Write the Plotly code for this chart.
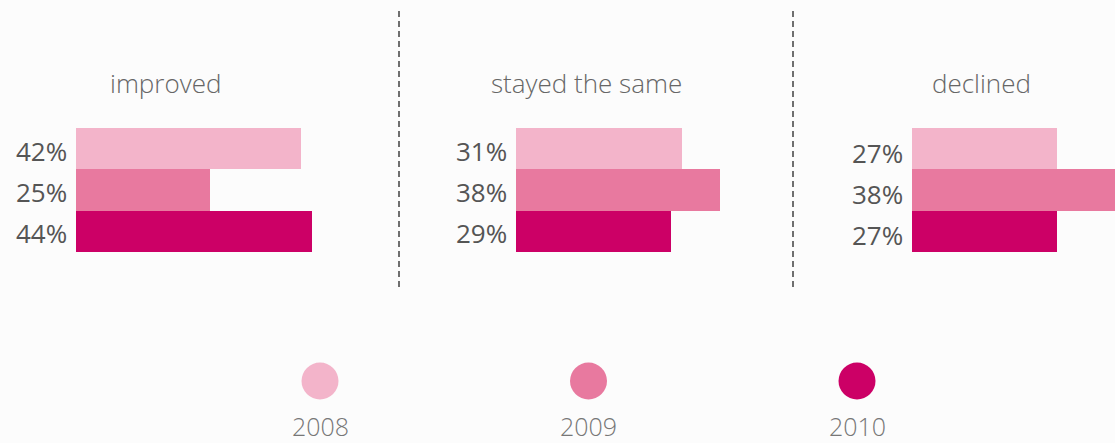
import plotly.graph_objects as go

# Survey results by outcome and year (percent of respondents)
years = ["2008", "2009", "2010"]
outcomes = ["improved", "stayed the same", "declined"]
improved = [42, 25, 44]
stayed_same = [31, 38, 29]
declined = [27, 38, 27]
year_colors = ["#f3b4ca", "#e8799f", "#cc0066"]

W, H = 1115, 443
PX_PER_PCT = 5.36          # horizontal scale shared by all panels
bar_starts = [76, 516, 912]  # left edge of each panel's bars (px)
bar_top, bar_bottom = 128, 252

TEXT = "#555555"
FONT = "Open Sans"

# axis that is present for positioning but draws nothing
hidden = dict(showticklabels=False, showgrid=False, zeroline=False,
              showline=False, ticks="", fixedrange=True)

fig = go.Figure()
series = [improved, stayed_same, declined]
label_shift = [-2, -2, -4]

for i, (vals, x0) in enumerate(zip(series, bar_starts)):
    n = i + 1
    sfx = "" if n == 1 else str(n)
    x_end_px = min(x0 + 60 * PX_PER_PCT, W)
    fig.add_trace(go.Bar(
        x=vals, y=years, orientation="h",
        marker=dict(color=year_colors, line=dict(width=0)),
        width=1.0, hoverinfo="skip", showlegend=False,
        xaxis="x" + sfx, yaxis="y" + sfx,
    ))
    fig.layout["xaxis" + sfx] = dict(
        domain=[x0 / W, x_end_px / W],
        range=[0, (x_end_px - x0) / PX_PER_PCT],
        anchor="y" + sfx, **hidden,
    )
    fig.layout["yaxis" + sfx] = dict(
        domain=[(H - bar_bottom) / H, (H - bar_top) / H],
        type="category", categoryorder="array", categoryarray=years,
        range=[2.5, -0.5], anchor="x" + sfx, **hidden,
    )
    # percentage labels to the left of each bar
    # (category axes place annotations by category index)
    for k, v in enumerate(vals):
        fig.add_annotation(
            x=0, y=k, xref="x" + sfx, yref="y" + sfx,
            text=f"{v}%", showarrow=False, xanchor="right",
            xshift=-7, yshift=label_shift[i],
            font=dict(family=FONT, size=26, color=TEXT, weight=400),
        )

# panel titles
title_centers = [165, 586, 981]
for name, cx in zip(outcomes, title_centers):
    fig.add_annotation(
        x=cx / W, y=(H - 83) / H, xref="paper", yref="paper",
        text=name, showarrow=False, xanchor="center", yanchor="middle",
        font=dict(family=FONT, size=26, color="#666666", weight=300),
    )

# dashed separators between panels
for sx in [399, 793]:
    fig.add_shape(
        type="line", xref="paper", yref="paper",
        x0=sx / W, x1=sx / W, y0=(H - 287) / H, y1=(H - 11) / H,
        line=dict(color="#6f6f6f", width=2, dash="6px,4px"),
    )

# year key: coloured dots with labels underneath
key_spacing = 268.5
key_first = 320
fig.add_trace(go.Scatter(
    x=years, y=[0, 0, 0], mode="markers",
    marker=dict(size=37, color=year_colors, line=dict(width=0)),
    hoverinfo="skip", showlegend=False, xaxis="x4", yaxis="y4",
))
fig.layout["xaxis4"] = dict(
    domain=[0, 1], type="category", categoryorder="array", categoryarray=years,
    range=[-key_first / key_spacing, (W - key_first) / key_spacing],
    anchor="y4", **hidden,
)
key_cy = (H - 381) / H
fig.layout["yaxis4"] = dict(
    domain=[key_cy - 0.1, key_cy + 0.1], range=[-1, 1],
    anchor="x4", **hidden,
)
for k, y in enumerate(years):
    fig.add_annotation(
        x=k, y=0, xref="x4", yref="y4", text=y, showarrow=False,
        yshift=-45, xanchor="center", yanchor="middle",
        font=dict(family=FONT, size=25, color="#777777", weight=300),
    )

fig.update_layout(
    width=W, height=H, margin=dict(l=0, r=0, t=0, b=0),
    paper_bgcolor="#fcfcfc", plot_bgcolor="rgba(0,0,0,0)",
    bargap=0, barmode="overlay",
)

fig.write_html("out.html", config={"displayModeBar": False})
